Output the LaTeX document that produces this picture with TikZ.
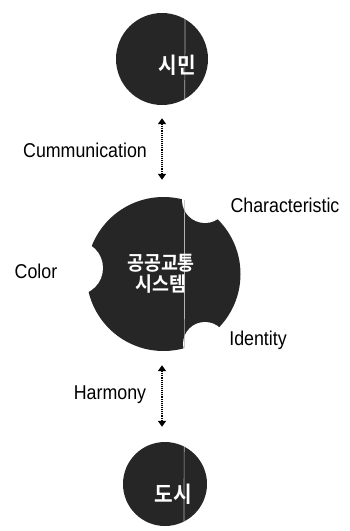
\documentclass[tikz,border=0pt]{standalone}
\usepackage{fontspec}
\setmainfont{Liberation Sans}[FakeStretch=0.89]
\newfontfamily\kr{Noto Sans CJK KR}[BoldFont={Noto Sans CJK KR Bold},FakeStretch=0.92]
\usetikzlibrary{arrows.meta}
\begin{document}
\begin{tikzpicture}[x=1pt,y=-1pt,
  disc/.style={circle,fill=black!85,inner sep=0pt,minimum size=#1},
  ktext/.style={text=white,font=\kr\bfseries\fontsize{20}{22}\selectfont,align=center},
  lbl/.style={font=\fontsize{20}{22}\selectfont,inner sep=0pt},
  arr/.style={line width=2.4pt,dash pattern=on 1pt off 0.9pt,
    {Triangle[width=8pt,length=6pt]}-{Triangle[width=8pt,length=6pt]}},
  bite/.style={fill=white,draw=none}
]
\useasboundingbox (0,0) rectangle (349,531);
% circles
\node[disc=92pt] (top) at (162,59) {};
\node[disc=154pt] (big) at (163.5,274) {};
\node[disc=84pt] (bot) at (165,484) {};
% bites of the big disc
\fill[bite] (205,200) circle (23);
\fill[bite] (205,344) circle (22);
\fill[bite] (76,268) circle (27);
% faint scan line
\begin{scope}
\clip (top) circle (46) (bot) circle (42) (163.5,274) circle (77);
\draw[white!70!black,line width=0.7pt] (185,0) -- (184,531);
\end{scope}
% texts in circles
\node[ktext,font=\kr\bfseries\fontsize{22}{24}\selectfont] (t1) at (177,65) {시민};
\node[ktext] (t2) at (161,274) {공공교통\\[-1pt]시스템};
\node[ktext,font=\kr\bfseries\fontsize{22}{24}\selectfont] (t3) at (173,494) {도시};
% connectors
\draw[arr,shorten <=13pt,shorten >=17pt] (top.south) -- (top.south |- big.north);
\draw[arr,shorten <=14pt,shorten >=15pt] (top.south |- big.south) -- (top.south |- bot.north);
% labels
\node[lbl] (l1) at (85,150) {Cummunication};
\node[lbl] (l2) at (285,205) {Characteristic};
\node[lbl] (l3) at (36,271) {Color};
\node[lbl] (l4) at (258,340) {Identity};
\node[lbl] (l5) at (110,395) {Harmony};
\end{tikzpicture}
\end{document}
